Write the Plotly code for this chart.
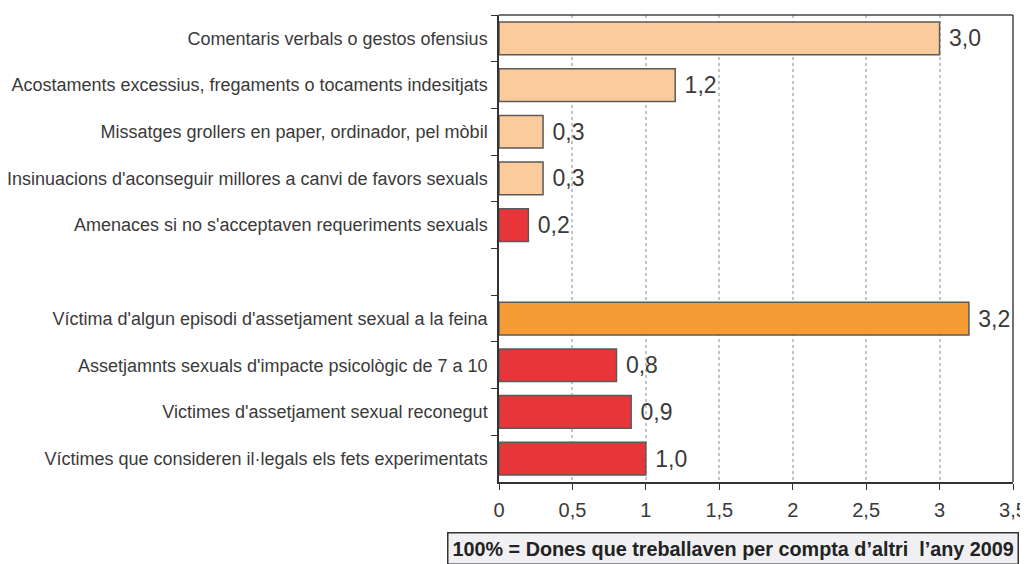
import plotly.graph_objects as go

# categories from top to bottom (blank row is the gap)
categories = [
    "Comentaris verbals o gestos ofensius",
    "Acostaments excessius, fregaments o tocaments indesitjats",
    "Missatges grollers en paper, ordinador, pel mòbil",
    "Insinuacions d'aconseguir millores a canvi de favors sexuals",
    "Amenaces si no s'acceptaven requeriments sexuals",
    " ",
    "Víctima d'algun episodi d'assetjament sexual a la feina",
    "Assetjamnts sexuals d'impacte psicològic de 7 a 10",
    "Victimes d'assetjament sexual reconegut",
    "Víctimes que consideren il·legals els fets experimentats",
]
values = [3.0, 1.2, 0.3, 0.3, 0.2, None, 3.2, 0.8, 0.9, 1.0]
colors = ["#FBCB9B", "#FBCB9B", "#FBCB9B", "#FBCB9B", "#E8353A", "#FFFFFF",
          "#F59C34", "#E8353A", "#E8353A", "#E8353A"]
x_ticks = [0, 0.5, 1, 1.5, 2, 2.5, 3, 3.5]

fig = go.Figure()
fig.add_bar(
    y=categories, x=values, orientation="h",
    marker=dict(color=colors, line=dict(color="#5a5a5a", width=1.5)),
    width=0.7,
    text=values, texttemplate=" %{x:.1f}", textposition="outside",
    textfont=dict(size=23, color="#3a3a3a"), cliponaxis=False,
)

fig.update_yaxes(
    categoryorder="array", categoryarray=categories, autorange="reversed",
    tickson="boundaries", ticks="outside", ticklen=6, tickcolor="#333333",
    showline=True, linecolor="#333333", linewidth=1.5, mirror=False,
    tickfont=dict(size=18, color="#3a3a3a"), showgrid=False,
    ticklabelstandoff=6, automargin=False,
)
fig.update_xaxes(
    range=[0, 3.5], tickvals=x_ticks, ticks="outside", ticklen=6, tickcolor="#333333",
    showline=True, linecolor="#333333", linewidth=1.5,
    showgrid=True, gridcolor="#c4c4c4", griddash="dot", gridwidth=1.5,
    tickfont=dict(size=20, color="#3a3a3a"), zeroline=False,
    ticklabelstandoff=3, automargin=False,
)

# top and right border of the plot
fig.add_shape(type="line", xref="paper", yref="paper", x0=0, x1=1, y0=1, y1=1,
              line=dict(color="#444444", width=1.5))
fig.add_shape(type="line", xref="paper", yref="paper", x0=1, x1=1, y0=0, y1=1,
              line=dict(color="#444444", width=1.5))

fig.add_annotation(
    text="<b>100% = Dones que treballaven per compta d’altri  l’any 2009</b>",
    xref="paper", yref="paper", x=-0.101, y=-0.106, xanchor="left", yanchor="top",
    showarrow=False, font=dict(size=19.8, color="#222222"),
    bgcolor="#F0F0F3", bordercolor="#333333", borderwidth=1.5, borderpad=4,
)

# page body adds an 8px offset; keep plot area where it belongs
fig.update_layout(
    width=1028, height=556,
    margin=dict(l=491, r=23, t=7, b=82),
    plot_bgcolor="white", paper_bgcolor="white",
    font=dict(family="Liberation Sans, Arial, sans-serif"),
    separators=",.", showlegend=False,
)

fig.write_html("out.html")
